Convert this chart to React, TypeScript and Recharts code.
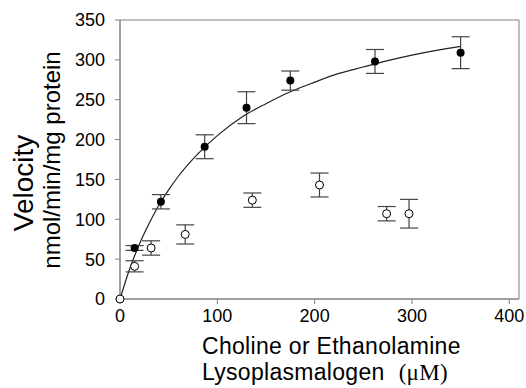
import {
  ComposedChart,
  Scatter,
  Line,
  XAxis,
  YAxis,
  ErrorBar,
  ReferenceArea,
  Customized,
} from "recharts"

// choline lysoplasmalogen (filled circles)
const cholineX = [15, 42, 87, 130, 175, 262, 350]
const cholineY = [64, 122, 191, 240, 274, 298, 309]
const cholineErr = [3, 9, 15, 20, 12, 15, 20]

// ethanolamine lysoplasmalogen (open circles)
const ethanolX = [0, 15, 32, 67, 136, 205, 274, 297]
const ethanolY = [0, 41, 64, 81, 124, 143, 107, 107]
const ethanolErr = [0, 7, 9, 12, 9, 15, 9, 18]

// fitted curve
const curveX = [0, 10, 20, 30, 40, 50, 60, 80, 100, 125, 150, 175, 200, 225, 250, 275, 300, 325, 350]
const curveY = [0, 38, 69, 95, 118, 137, 154, 182, 205, 228, 245, 260, 272, 283, 291, 299, 306, 312, 317]

const xTicks = [0, 100, 200, 300, 400]
const yTicks = [0, 50, 100, 150, 200, 250, 300, 350]

const choline = cholineX.map((x, i) => ({ x, y: cholineY[i], err: cholineErr[i] }))
const ethanol = ethanolX.map((x, i) => ({ x, y: ethanolY[i], err: ethanolErr[i] }))
const curve = curveX.map((x, i) => ({ x, y: curveY[i] }))

const axisGray = "#808080"
const font = "'Liberation Sans', Arial, sans-serif"

const FilledDot = (props: any) => <circle cx={props.cx} cy={props.cy} r={4} fill="#000" />
const OpenDot = (props: any) => (
  <circle cx={props.cx} cy={props.cy} r={4} fill="#fff" stroke="#000" strokeWidth={1} />
)

const AxisTitles = () => (
  <g fontFamily={font} fill="#000">
    <text transform="translate(33,183) rotate(-90)" textAnchor="middle" fontSize={28}>
      Velocity
    </text>
    <text transform="translate(60,160) rotate(-90)" textAnchor="middle" fontSize={24}>
      nmol/min/mg protein
    </text>
    <text x={202} y={354} fontSize={23} letterSpacing={0.3}>
      Choline or Ethanolamine
    </text>
    <text x={202} y={380} fontSize={23} letterSpacing={0.3}>
      Lysoplasmalogen
      <tspan dx={14} fontFamily="'Liberation Serif', 'Times New Roman', serif">(μM)</tspan>
    </text>
  </g>
)

export default function App() {
  return (
    <div>
      <style>{"body{margin:0}"}</style>
      <ComposedChart
        width={526}
        height={388}
        margin={{ top: 20, right: 7, left: 60, bottom: 59 }}
        style={{ fontFamily: font }}
      >
        <XAxis
          dataKey="x"
          type="number"
          domain={[0, 410]}
          ticks={xTicks}
          height={30}
          tickSize={5}
          tickMargin={5}
          stroke={axisGray}
          tick={{ fill: "#000", fontSize: 18 }}
        />
        <YAxis
          type="number"
          domain={[0, 350]}
          ticks={yTicks}
          width={60}
          tickSize={5}
          tickMargin={10}
          stroke={axisGray}
          tick={{ fill: "#000", fontSize: 18 }}
        />
        <ReferenceArea x1={0} x2={410} y1={0} y2={350} fill="none" stroke={axisGray} strokeWidth={1} />
        <Line
          data={curve}
          dataKey="y"
          type="monotone"
          stroke="#222"
          strokeWidth={1.2}
          dot={false}
          isAnimationActive={false}
        />
        <Scatter data={choline} dataKey="y" shape={FilledDot} isAnimationActive={false}>
          <ErrorBar dataKey="err" direction="y" width={9} stroke="#444" strokeWidth={1.2} />
        </Scatter>
        <Scatter data={ethanol} dataKey="y" shape={OpenDot} isAnimationActive={false}>
          <ErrorBar dataKey="err" direction="y" width={9} stroke="#444" strokeWidth={1.2} />
        </Scatter>
        <Customized component={AxisTitles} />
      </ComposedChart>
    </div>
  )
}
